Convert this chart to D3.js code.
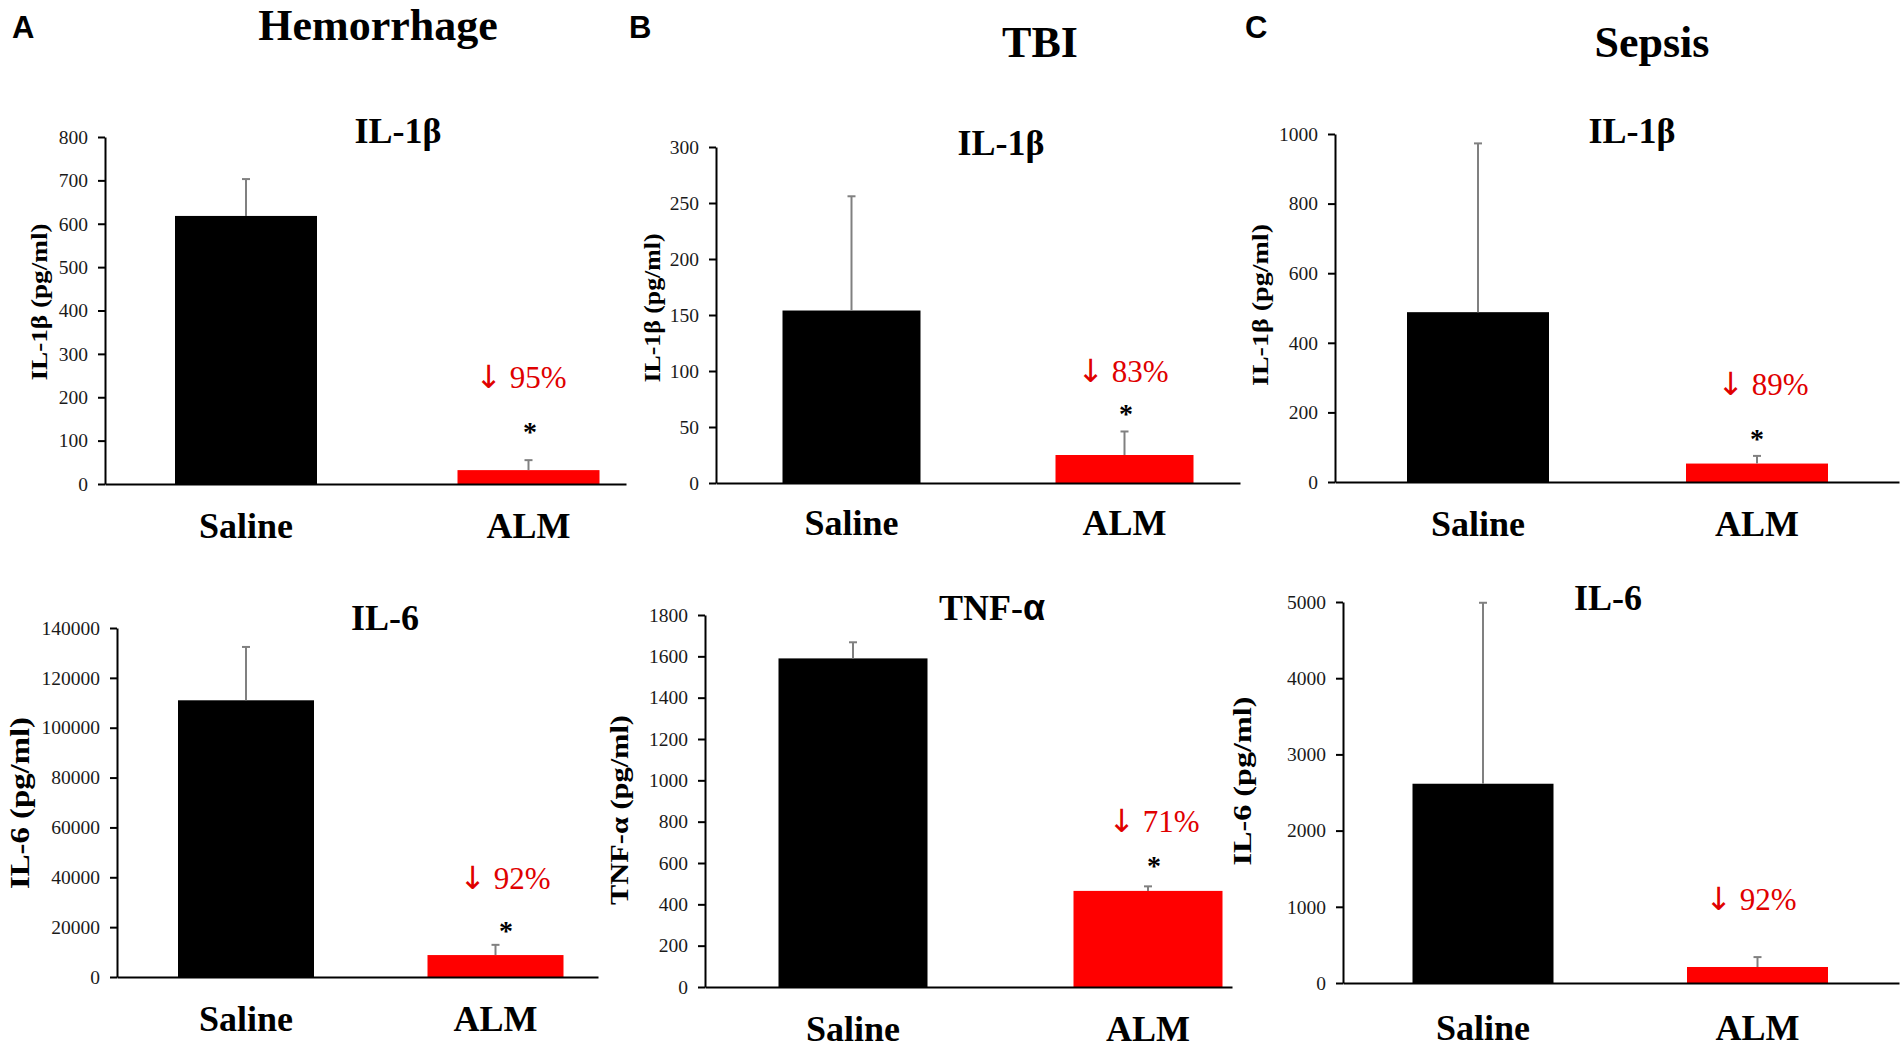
<!DOCTYPE html>
<html><head><meta charset="utf-8">
<script src="https://cdn.jsdelivr.net/npm/d3@7"></script>
<style>body{margin:0;background:#fff} svg{display:block}</style>
</head><body>
<svg id="chart" width="1902" height="1051"></svg>
<script>
// ---------- data ----------
const panelLetters = ["A", "B", "C"];
const panelTitles = ["Hemorrhage", "TBI", "Sepsis"];
const categories = ["Saline", "ALM"];
const chartTitles = ["IL-1β", "IL-6", "IL-1β", "TNF-α", "IL-1β", "IL-6"];
const yLabels = ["IL-1β (pg/ml)", "IL-6 (pg/ml)", "IL-1β (pg/ml)", "TNF-α (pg/ml)", "IL-1β (pg/ml)", "IL-6 (pg/ml)"];
const salineMeans = [618, 111000, 154, 1590, 488, 2615];
const salineErrors = [85, 21400, 102, 78, 485, 2375];
const almMeans = [32, 8800, 25, 465, 53, 210];
const almErrors = [23, 4100, 21, 22, 22, 130];
const yMaxes = [800, 140000, 300, 1800, 1000, 5000];
const yTickSteps = [100, 20000, 50, 200, 200, 1000];
const reductions = ["95%", "92%", "83%", "71%", "89%", "92%"];
const significant = [true, true, true, true, true, false];

// ---------- layout ----------
const layout = [
  {axisX:105, y0:484, yTop:137, centers:[246,528.5], barW:142, axisEnd:626, titleX:398, titleY:143, ylx:39, yly:302, ylLen:157, ylSize:23, annX:521, annY:388, starX:530, starY:428, catY:538},
  {axisX:117, y0:977, yTop:628, centers:[246,495.5], barW:136, axisEnd:598, titleX:385, titleY:630, ylx:20, yly:803, ylLen:172, ylSize:27, annX:505, annY:889, starX:506, starY:927, catY:1031},
  {axisX:716, y0:483, yTop:147, centers:[851.5,1124.5], barW:138, axisEnd:1240, titleX:1001, titleY:155, ylx:652, yly:308, ylLen:149, ylSize:23, annX:1123, annY:382, starX:1126, starY:410, catY:535},
  {axisX:705, y0:987, yTop:615, centers:[853,1148], barW:149, axisEnd:1232, titleX:992, titleY:620, ylx:619, yly:810, ylLen:190, ylSize:26, annX:1154, annY:832, starX:1154, starY:862, catY:1041},
  {axisX:1335, y0:482, yTop:134, centers:[1478,1757], barW:142, axisEnd:1899, titleX:1632, titleY:143, ylx:1260, yly:305, ylLen:162, ylSize:23, annX:1763, annY:395, starX:1757, starY:435, catY:536},
  {axisX:1343, y0:983, yTop:602, centers:[1483,1757.5], barW:141, axisEnd:1899, titleX:1608, titleY:610, ylx:1242, yly:781, ylLen:169, ylSize:25, annX:1751, annY:910, starX:0, starY:0, catY:1040}
];
const letterPos = [[12,38],[629,38],[1245,38]];
const headPos = [[378,40],[1040,57],[1652,57]];

const SERIF = "'Liberation Serif','Times New Roman',Times,serif";
const SANS = "'Liberation Sans',Arial,sans-serif";
const NARROW = "'Liberation Sans Narrow','Arial Narrow','Liberation Sans',Arial,sans-serif";
const ARROWF = "'DejaVu Sans','Liberation Sans',sans-serif";
const barColors = {"Saline":"#000000", "ALM":"#ff0000"};

const svg = d3.select("#chart");
svg.append("rect").attr("width",1902).attr("height",1051).attr("fill","#fff");

// write text where Greek alpha is set in a sans face (as in the figure)
function greekText(sel, str, sansAlpha) {
  const parts = str.split(/(α)/);
  parts.forEach(p => {
    if (!p) return;
    const t = sel.append("tspan").text(p);
    if (p === "α" && sansAlpha) t.attr("font-family", SANS);
  });
}

// panel letters and headings
panelLetters.forEach((L,i)=>{
  svg.append("text").attr("x",letterPos[i][0]).attr("y",letterPos[i][1])
    .attr("font-family",NARROW).attr("font-weight","bold").attr("font-size",31)
    .attr("fill","#000").text(L);
  svg.append("text").attr("x",headPos[i][0]).attr("y",headPos[i][1])
    .attr("text-anchor","middle").attr("font-family",SERIF).attr("font-weight","bold")
    .attr("font-size",44).attr("fill","#000").text(panelTitles[i]);
});

layout.forEach((L,i)=>{
  const g = svg.append("g");
  const y = d3.scaleLinear().domain([0, yMaxes[i]]).range([L.y0, L.yTop]);
  const x = d3.scalePoint().domain(categories).range(L.centers);
  const xLine = d3.scaleLinear().domain([0,1]).range([L.axisX, L.axisEnd]);
  const rows = categories.map((c,k)=>({
    cat:c,
    mean: k===0 ? salineMeans[i] : almMeans[i],
    err: k===0 ? salineErrors[i] : almErrors[i]
  }));

  // bars
  g.selectAll("rect.bar").data(rows).join("rect").attr("class","bar")
    .attr("x", d=>x(d.cat)-L.barW/2).attr("width", L.barW)
    .attr("y", d=>y(d.mean)).attr("height", d=>y(0)-y(d.mean))
    .attr("fill", d=>barColors[d.cat]);

  // error bars (upper only)
  const eb = g.selectAll("g.err").data(rows).join("g").attr("class","err")
    .attr("stroke","#808080").attr("stroke-width",2);
  eb.append("line").attr("x1",d=>x(d.cat)).attr("x2",d=>x(d.cat))
    .attr("y1",d=>y(d.mean)).attr("y2",d=>y(d.mean+d.err));
  eb.append("line").attr("x1",d=>x(d.cat)-4).attr("x2",d=>x(d.cat)+4)
    .attr("y1",d=>y(d.mean+d.err)).attr("y2",d=>y(d.mean+d.err));

  // y axis
  const yAxis = d3.axisLeft(y)
    .tickValues(d3.range(0, yMaxes[i]+yTickSteps[i]/2, yTickSteps[i]))
    .tickFormat(d3.format("d")).tickSize(7).tickSizeOuter(0).tickPadding(10);
  const ya = g.append("g").attr("transform",`translate(${L.axisX},0)`).call(yAxis);
  ya.selectAll("path,line").attr("stroke","#000").attr("stroke-width",2);
  ya.selectAll("text").attr("font-family",SERIF).attr("font-size",19.5).attr("fill","#1a1a1a");

  // x axis line
  const xa = g.append("g").attr("transform",`translate(0,${L.y0})`)
    .call(d3.axisBottom(xLine).tickValues([]).tickSizeOuter(0));
  xa.selectAll("path").attr("stroke","#000").attr("stroke-width",2);

  // category labels
  g.selectAll("text.cat").data(categories).join("text").attr("class","cat")
    .attr("x",d=>x(d)).attr("y",L.catY).attr("text-anchor","middle")
    .attr("font-family",SERIF).attr("font-weight","bold").attr("font-size",36)
    .attr("fill","#000").text(d=>d);

  // chart title
  const tt = g.append("text").attr("x",L.titleX).attr("y",L.titleY).attr("text-anchor","middle")
    .attr("font-family",SERIF).attr("font-weight","bold").attr("font-size",36)
    .attr("fill","#000");
  greekText(tt, chartTitles[i], true);

  // y label
  g.append("text").attr("transform",`translate(${L.ylx},${L.yly}) rotate(-90)`)
    .attr("text-anchor","middle").attr("dominant-baseline","central")
    .attr("font-family",SERIF).attr("font-weight","bold").attr("font-size",L.ylSize)
    .attr("textLength",L.ylLen).attr("lengthAdjust","spacingAndGlyphs")
    .attr("fill","#000").text(yLabels[i]);

  // reduction annotation: arrow + percentage
  const an = g.append("text").attr("x",L.annX).attr("y",L.annY).attr("text-anchor","middle")
    .attr("fill","#e00000");
  an.append("tspan").attr("font-family",ARROWF).attr("font-size",32).text("↓");
  an.append("tspan").attr("font-family",SERIF).attr("font-size",31).text("\u00a0" + reductions[i]);

  if (significant[i]) {
    g.append("text").attr("x",L.starX).attr("y",L.starY+13).attr("text-anchor","middle")
      .attr("font-family",SERIF).attr("font-weight","bold").attr("font-size",28)
      .attr("fill","#000").text("*");
  }
});
</script>
</body></html>
